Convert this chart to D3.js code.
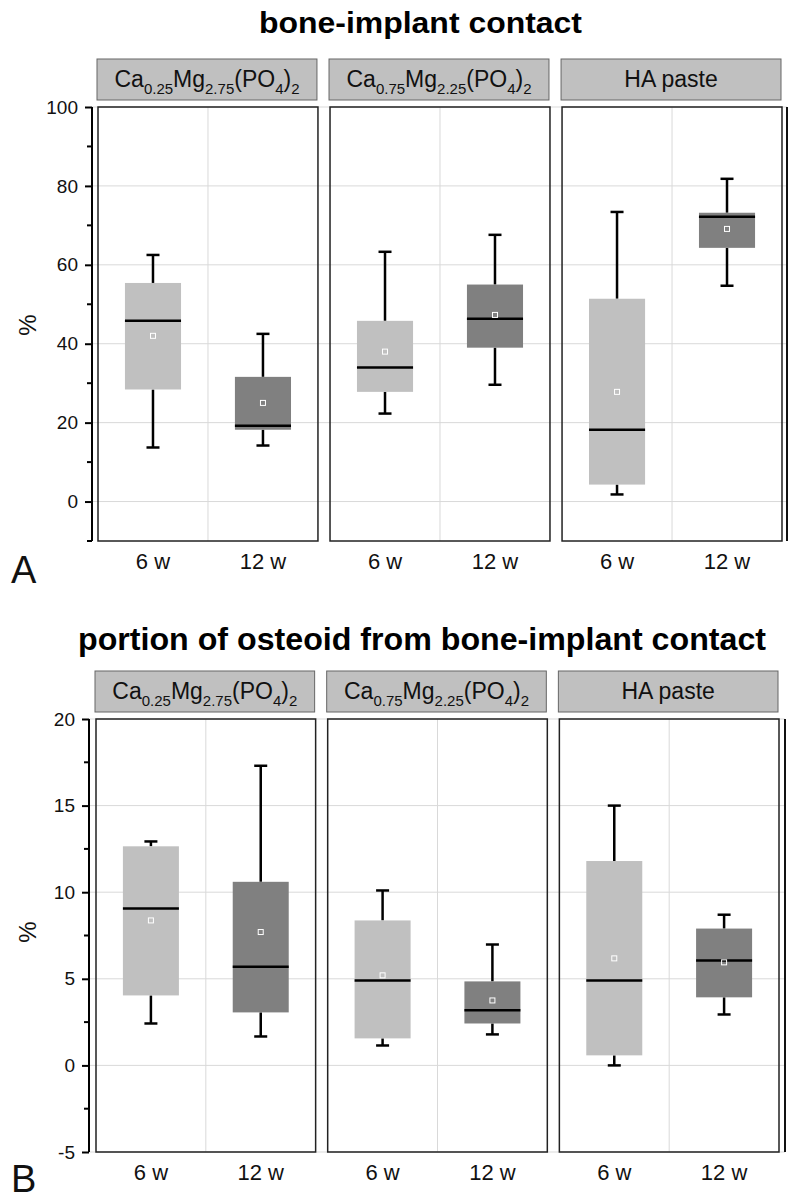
<!DOCTYPE html>
<html lang="en">
<head>
  <meta charset="utf-8" />
  <style>
    body { margin: 0; background: #fff; }
    svg { font-family: "Liberation Sans", Arial, sans-serif; }
  </style>
</head>
<body>
<svg width="799" height="1201"></svg>
<script src="https://d3js.org/d3.v7.min.js"></script>
<script>
var groupLabels = ["Ca_{0.25}Mg_{2.75}(PO_{4})_{2}", "Ca_{0.75}Mg_{2.25}(PO_{4})_{2}", "HA paste"],
    timeLabels = ["6 w", "12 w"],
    timeColors = ["#c0c0c0", "#808080"];

// one row per box, group by group then time: [whisker low, q1, median, q3, whisker high, mean]
var bicStats = [
  [13.7, 28.4, 45.8, 55.4, 62.5, 42.0],
  [14.2, 18.2, 19.2, 31.6, 42.5, 25.0],
  [22.3, 27.8, 34.0, 45.8, 63.3, 38.0],
  [29.6, 39.0, 46.3, 55.0, 67.6, 47.3],
  [1.8, 4.3, 18.2, 51.4, 73.4, 27.8],
  [54.7, 64.3, 72.2, 73.2, 81.8, 69.1]
];
var osteoidStats = [
  [2.42, 4.04, 9.06, 12.65, 12.93, 8.37],
  [1.67, 3.06, 5.7, 10.6, 17.3, 7.7],
  [1.15, 1.56, 4.9, 8.37, 10.1, 5.2],
  [1.79, 2.42, 3.18, 4.85, 6.98, 3.75],
  [0.0, 0.58, 4.9, 11.8, 15.0, 6.18],
  [2.94, 3.93, 6.06, 7.9, 8.7, 5.95]
];
var bicTicks = [0, 20, 40, 60, 80, 100],
    bicMinor = [-10, 10, 30, 50, 70, 90],
    osteoidTicks = [-5, 0, 5, 10, 15, 20],
    osteoidMinor = [-2.5, 2.5, 7.5, 12.5, 17.5];

var svg = d3.select("svg");

drawChart({
  title: "bone-implant contact", titleX: 259, titleY: 33, titleLen: 323, titleSize: 29,
  letter: "A", letterY: 583,
  stats: bicStats, domain: [-10, 100], ticks: bicTicks, minor: bicMinor,
  top: 107, bottom: 541, left: 98, right: 782, axisX: 92, edgeX: 787,
  headerTop: 59, xLabelY: 569, unitY: 325
});

drawChart({
  title: "portion of osteoid from bone-implant contact", titleX: 78, titleY: 650, titleLen: 688, titleSize: 31,
  letter: "B", letterY: 1192,
  stats: osteoidStats, domain: [-5, 20], ticks: osteoidTicks, minor: osteoidMinor,
  top: 719, bottom: 1152, left: 96, right: 779, axisX: 89, edgeX: 785,
  headerTop: 671, xLabelY: 1180, unitY: 932
});

function drawChart(c) {
  var g = svg.append("g");

  var y = d3.scaleLinear().domain(c.domain).range([c.bottom, c.top]);
  var px = d3.scaleBand().domain(d3.range(groupLabels.length)).range([c.left, c.right]).paddingInner(0.052);
  var tx = d3.scaleBand().domain(d3.range(timeLabels.length)).range([0, px.bandwidth()])
    .paddingInner(0.49).paddingOuter(0.245);

  g.append("text")
    .attr("x", c.titleX).attr("y", c.titleY)
    .attr("textLength", c.titleLen).attr("lengthAdjust", "spacingAndGlyphs")
    .attr("font-size", c.titleSize).attr("font-weight", "bold")
    .text(c.title);

  // horizontal grid spans across all panels
  g.selectAll(".hgrid").data(c.ticks).join("line")
    .attr("x1", c.axisX).attr("x2", c.edgeX)
    .attr("y1", function(d) { return y(d); }).attr("y2", function(d) { return y(d); })
    .attr("stroke", "#d9d9d9").attr("stroke-width", 1);

  var panel = g.selectAll(".panel").data(groupLabels).join("g")
    .attr("transform", function(d, i) { return "translate(" + px(i) + ",0)"; });

  panel.append("line")
    .attr("x1", px.bandwidth() / 2).attr("x2", px.bandwidth() / 2)
    .attr("y1", c.top).attr("y2", c.bottom)
    .attr("stroke", "#d9d9d9");

  // strip header
  panel.append("rect")
    .attr("x", -1).attr("y", c.headerTop)
    .attr("width", px.bandwidth()).attr("height", 41)
    .attr("fill", "#c0c0c0").attr("stroke", "#666").attr("stroke-width", 1);

  panel.each(function(label) {
    var t = d3.select(this).append("text")
      .attr("x", px.bandwidth() / 2 - 1).attr("y", c.headerTop + 28)
      .attr("text-anchor", "middle").attr("font-size", 23).attr("fill", "#111");
    var parts = label.split(/(_\{[^}]*\})/).filter(function(s) { return s.length; });
    var shifted = false;
    parts.forEach(function(p) {
      var sub = p.charAt(0) === "_";
      var s = t.append("tspan").text(sub ? p.slice(2, -1) : p);
      if (sub) s.attr("font-size", 15);
      if (sub && !shifted) { s.attr("dy", 7); shifted = true; }
      if (!sub && shifted) { s.attr("dy", -7); shifted = false; }
    });
  });

  // boxes
  panel.each(function(label, gi) {
    var pg = d3.select(this);
    timeLabels.forEach(function(tl, ti) {
      var s = c.stats[gi * timeLabels.length + ti],
          x0 = tx(ti), w = tx.bandwidth(), cx = x0 + w / 2;
      pg.append("line").attr("x1", cx).attr("x2", cx)
        .attr("y1", y(s[3])).attr("y2", y(s[4]))
        .attr("stroke", "#000").attr("stroke-width", 2.5);
      pg.append("line").attr("x1", cx).attr("x2", cx)
        .attr("y1", y(s[1])).attr("y2", y(s[0]))
        .attr("stroke", "#000").attr("stroke-width", 2.5);
      [s[0], s[4]].forEach(function(v) {
        pg.append("line").attr("x1", cx - 6.5).attr("x2", cx + 6.5)
          .attr("y1", y(v)).attr("y2", y(v))
          .attr("stroke", "#000").attr("stroke-width", 2.5);
      });
      pg.append("rect")
        .attr("x", x0).attr("y", y(s[3]))
        .attr("width", w).attr("height", y(s[1]) - y(s[3]))
        .attr("fill", timeColors[ti]);
      pg.append("line").attr("x1", x0).attr("x2", x0 + w)
        .attr("y1", y(s[2])).attr("y2", y(s[2]))
        .attr("stroke", "#000").attr("stroke-width", 2.5);
      pg.append("rect")
        .attr("x", cx - 2.5).attr("y", y(s[5]) - 2.5)
        .attr("width", 5).attr("height", 5)
        .attr("fill", "none").attr("stroke", "#fff").attr("stroke-width", 1);
    });
  });

  // panel frame
  panel.append("rect")
    .attr("x", 0).attr("y", c.top)
    .attr("width", px.bandwidth()).attr("height", c.bottom - c.top)
    .attr("fill", "none").attr("stroke", "#222").attr("stroke-width", 1.5);

  panel.selectAll(".xl").data(timeLabels).join("text")
    .attr("x", function(d, i) { return tx(i) + tx.bandwidth() / 2; })
    .attr("y", c.xLabelY)
    .attr("text-anchor", "middle").attr("font-size", 22).attr("fill", "#111")
    .text(function(d) { return d; });

  g.append("line")
    .attr("x1", c.edgeX).attr("x2", c.edgeX).attr("y1", c.top).attr("y2", c.bottom)
    .attr("stroke", "#111").attr("stroke-width", 2);

  // y axis
  var axis = g.append("g").attr("transform", "translate(" + c.axisX + ",0)")
    .call(d3.axisLeft(y).tickValues(c.ticks).tickSize(7).tickPadding(7)
      .tickFormat(function(d) { return String(d); }));
  axis.select(".domain").attr("stroke", "#000").attr("stroke-width", 2)
    .attr("d", "M0," + c.top + "V" + c.bottom);
  axis.selectAll(".tick line").attr("stroke", "#000").attr("stroke-width", 2);
  axis.selectAll(".tick text").attr("font-size", 19).attr("fill", "#111")
    .attr("font-family", "Liberation Sans, Arial, sans-serif");
  axis.selectAll(".minor").data(c.minor).join("line")
    .attr("x1", -5).attr("x2", 0)
    .attr("y1", function(d) { return y(d); }).attr("y2", function(d) { return y(d); })
    .attr("stroke", "#000").attr("stroke-width", 2);

  g.append("text")
    .attr("transform", "translate(36," + c.unitY + ") rotate(-90)")
    .attr("text-anchor", "middle").attr("font-size", 24).attr("fill", "#111")
    .text("%");

  g.append("text")
    .attr("x", 11).attr("y", c.letterY)
    .attr("font-size", 38).attr("fill", "#111")
    .text(c.letter);
}
</script>
</body>
</html>
